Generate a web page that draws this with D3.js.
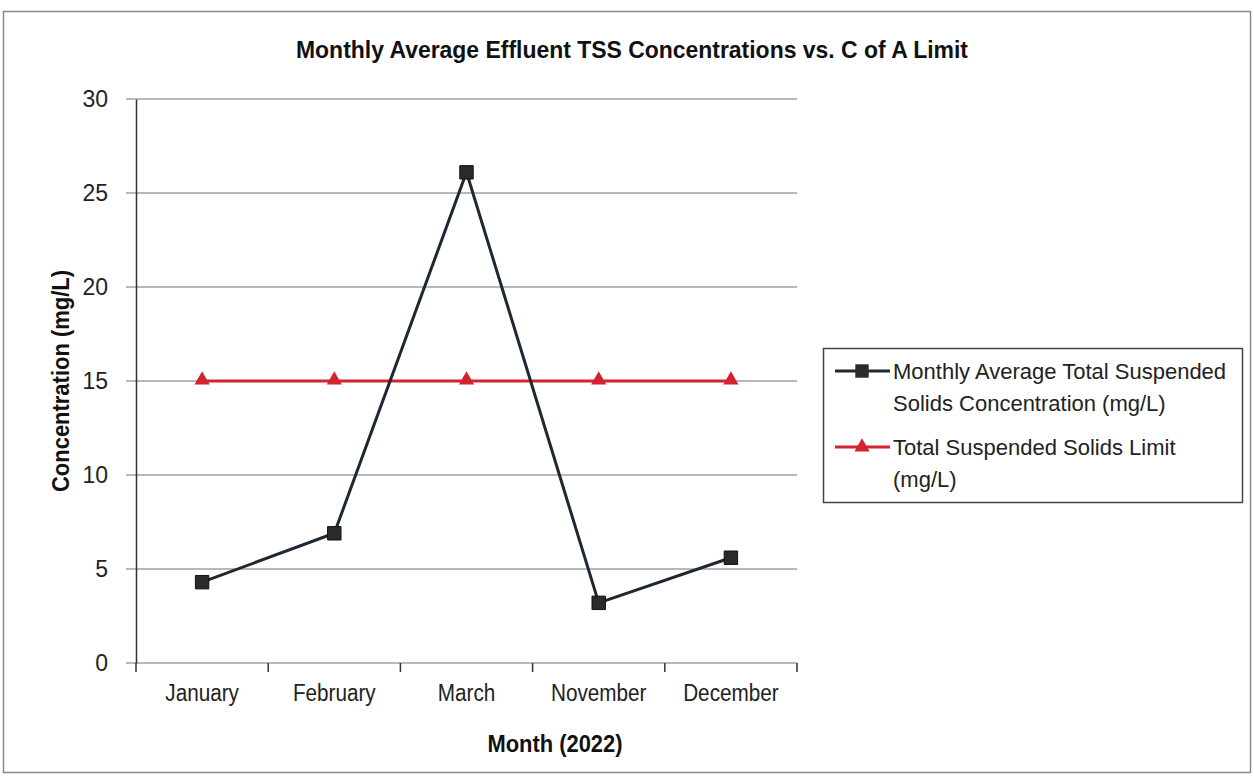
<!DOCTYPE html>
<html>
<head>
<meta charset="utf-8">
<script src="https://cdn.jsdelivr.net/npm/d3@7"></script>
<style>
  body { margin: 0; background: #fff; }
  .narrow { font-family: "Liberation Sans Narrow", "Arial Narrow", "Liberation Sans", sans-serif; }
  .reg { font-family: "Liberation Sans", Arial, sans-serif; }
</style>
</head>
<body>
<div id="chart"></div>
<script>
'use strict';

var months = ['January', 'February', 'March', 'November', 'December'];
var tssValues = [4.3, 6.9, 26.1, 3.2, 5.6];
var limitValues = [15, 15, 15, 15, 15];
var yTicks = [0, 5, 10, 15, 20, 25, 30];
var legendLabels = [
  ['Monthly Average Total Suspended', 'Solids Concentration (mg/L)'],
  ['Total Suspended Solids Limit', '(mg/L)']
];

var width = 1254, height = 777;
var plot = { left: 136, right: 797, top: 99, bottom: 663 };
var tssColor = '#1e2833', limitColor = '#d3232f';

// squeeze text horizontally to mimic a narrow face
var condense = function(sel, k){
  sel.each(function(){
    var w = this.getComputedTextLength();
    d3.select(this)
      .attr('textLength', w * k)
      .attr('lengthAdjust', 'spacingAndGlyphs');
  });
};

var svg = d3.select('#chart').append('svg')
  .attr('width', width)
  .attr('height', height);

// outer frame
svg.append('rect')
  .attr('x', 3.5).attr('y', 11.5)
  .attr('width', 1247).attr('height', 761)
  .attr('fill', '#fff')
  .attr('stroke', '#8a8a8a')
  .attr('stroke-width', 1.5);

var x = d3.scaleBand().domain(months).range([plot.left, plot.right]);
var y = d3.scaleLinear().domain([0, 30]).range([plot.bottom, plot.top]);

// gridlines
svg.append('g')
  .selectAll('line')
  .data(yTicks)
  .enter()
  .append('line')
  .attr('x1', plot.left - 10)
  .attr('x2', plot.right)
  .attr('y1', function(d){ return y(d); })
  .attr('y2', function(d){ return y(d); })
  .attr('stroke', '#a0a0a0')
  .attr('stroke-width', 1.5);

// y axis
var yAxis = svg.append('g')
  .attr('transform', 'translate(' + plot.left + ',0)')
  .call(d3.axisLeft(y).tickValues(yTicks).tickSize(0).tickPadding(28));
yAxis.select('.domain').attr('stroke', '#333').attr('stroke-width', 1.5);
yAxis.selectAll('text')
  .attr('class', 'reg')
  .attr('font-size', 23)
  .attr('fill', '#222');

// x axis
var xAxis = svg.append('g')
  .attr('transform', 'translate(0,' + plot.bottom + ')')
  .call(d3.axisBottom(x).tickSize(0).tickPadding(22));
xAxis.select('.domain').remove();
xAxis.selectAll('text')
  .attr('class', 'narrow')
  .attr('font-size', 23)
  .attr('fill', '#222')
  .call(condense, 0.9);

// category separators
var bounds = months.map(function(m){ return x(m); }).concat([plot.right]);
svg.append('g')
  .selectAll('line')
  .data(bounds)
  .enter()
  .append('line')
  .attr('x1', function(d){ return d; })
  .attr('x2', function(d){ return d; })
  .attr('y1', plot.bottom)
  .attr('y2', plot.bottom + 9)
  .attr('stroke', '#333')
  .attr('stroke-width', 1.5);

var cx = function(d, i){ return x(months[i]) + x.bandwidth() / 2; };

var line = d3.line()
  .x(function(d, i){ return cx(d, i); })
  .y(function(d){ return y(d); });

svg.append('path')
  .attr('d', line(limitValues))
  .attr('fill', 'none')
  .attr('stroke', limitColor)
  .attr('stroke-width', 3);

svg.append('path')
  .attr('d', line(tssValues))
  .attr('fill', 'none')
  .attr('stroke', tssColor)
  .attr('stroke-width', 3);

var tri = d3.symbol().type(d3.symbolTriangle).size(100);
var sq = d3.symbol().type(d3.symbolSquare).size(180);

svg.append('g')
  .selectAll('path')
  .data(limitValues)
  .enter()
  .append('path')
  .attr('d', tri)
  .attr('transform', function(d, i){ return 'translate(' + cx(d, i) + ',' + (y(d) - 1) + ')'; })
  .attr('fill', limitColor);

svg.append('g')
  .selectAll('path')
  .data(tssValues)
  .enter()
  .append('path')
  .attr('d', sq)
  .attr('transform', function(d, i){ return 'translate(' + cx(d, i) + ',' + y(d) + ')'; })
  .attr('fill', '#2a2a2a')
  .attr('stroke', '#111')
  .attr('stroke-width', 1);

// title
svg.append('text')
  .attr('class', 'narrow')
  .attr('x', 632).attr('y', 58)
  .attr('text-anchor', 'middle')
  .attr('font-size', 24)
  .attr('font-weight', 'bold')
  .attr('fill', '#111')
  .attr('textLength', 672)
  .attr('lengthAdjust', 'spacingAndGlyphs')
  .text('Monthly Average Effluent TSS Concentrations vs. C of A Limit');

// axis titles
svg.append('text')
  .attr('class', 'narrow')
  .attr('x', 555).attr('y', 752)
  .attr('text-anchor', 'middle')
  .attr('font-size', 23)
  .attr('font-weight', 'bold')
  .attr('fill', '#111')
  .attr('textLength', 135)
  .attr('lengthAdjust', 'spacingAndGlyphs')
  .text('Month (2022)');

svg.append('text')
  .attr('class', 'narrow')
  .attr('transform', 'translate(69,' + y(15) + ') rotate(-90)')
  .attr('text-anchor', 'middle')
  .attr('font-size', 23)
  .attr('font-weight', 'bold')
  .attr('fill', '#111')
  .attr('textLength', 222)
  .attr('lengthAdjust', 'spacingAndGlyphs')
  .text('Concentration (mg/L)');

// legend
var lg = svg.append('g').attr('transform', 'translate(823,348)');
lg.append('rect')
  .attr('x', 0.5).attr('y', 0.5)
  .attr('width', 419).attr('height', 154)
  .attr('fill', '#fff')
  .attr('stroke', '#444')
  .attr('stroke-width', 1.5);

var entries = [
  { color: tssColor, sym: sq, fill: '#2a2a2a', y: 23 },
  { color: limitColor, sym: tri, fill: limitColor, y: 99 }
];
entries.forEach(function(e, k){
  lg.append('line')
    .attr('x1', 12).attr('x2', 67)
    .attr('y1', e.y).attr('y2', e.y)
    .attr('stroke', e.color)
    .attr('stroke-width', 3);
  lg.append('path')
    .attr('d', e.sym)
    .attr('transform', 'translate(39,' + e.y + ')')
    .attr('fill', e.fill);
  var t = lg.append('text')
    .attr('class', 'reg')
    .attr('x', 70)
    .attr('y', e.y + 8)
    .attr('font-size', 22)
    .attr('fill', '#222');
  legendLabels[k].forEach(function(s, j){
    t.append('tspan')
      .attr('x', 70)
      .attr('dy', j === 0 ? 0 : 32)
      .text(s);
  });
});
</script>
</body>
</html>
